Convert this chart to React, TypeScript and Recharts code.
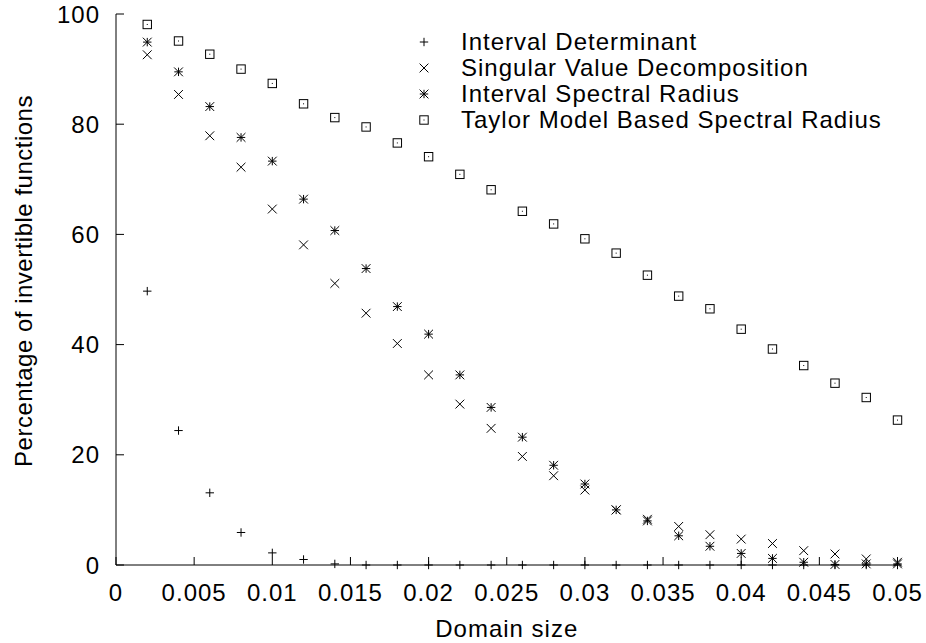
import { Legend, Scatter, ScatterChart, XAxis, YAxis } from "recharts";

const domainSizes = [
  0.002, 0.004, 0.006, 0.008, 0.01, 0.012, 0.014, 0.016, 0.018, 0.02, 0.022, 0.024, 0.026,
  0.028, 0.03, 0.032, 0.034, 0.036, 0.038, 0.04, 0.042, 0.044, 0.046, 0.048, 0.05,
];
const intervalDeterminant = [
  49.7, 24.4, 13.1, 5.9, 2.2, 1.0, 0.2, 0, 0, 0, 0, 0, 0, 0, 0, 0, 0, 0, 0, 0, 0, 0, 0, 0, 0,
];
const singularValueDecomposition = [
  92.6, 85.4, 77.9, 72.2, 64.6, 58.1, 51.1, 45.7, 40.2, 34.5, 29.2, 24.8, 19.7, 16.2, 13.6,
  10.0, 8.3, 7.0, 5.5, 4.7, 3.9, 2.6, 2.0, 1.1, 0.5,
];
const intervalSpectralRadius = [
  94.9, 89.5, 83.2, 77.6, 73.3, 66.4, 60.7, 53.8, 46.9, 41.9, 34.5, 28.6, 23.2, 18.1, 14.7,
  10.0, 8.0, 5.3, 3.4, 2.1, 1.2, 0.5, 0.1, 0.2, 0.2,
];
const taylorModelSpectralRadius = [
  98.1, 95.1, 92.7, 90.0, 87.4, 83.7, 81.2, 79.5, 76.6, 74.1, 70.9, 68.1, 64.2, 61.9, 59.2,
  56.6, 52.6, 48.8, 46.5, 42.8, 39.2, 36.2, 33.0, 30.4, 26.3,
];

const xTicks = [0, 0.005, 0.01, 0.015, 0.02, 0.025, 0.03, 0.035, 0.04, 0.045, 0.05];
const xTickLabels = ["0", "0.005", "0.01", "0.015", "0.02", "0.025", "0.03", "0.035", "0.04", "0.045", "0.05"];
const yTicks = [0, 20, 40, 60, 80, 100];

type MarkerKind = "plus" | "cross" | "star" | "box";

const series: { name: string; values: number[]; marker: MarkerKind }[] = [
  { name: "Interval Determinant", values: intervalDeterminant, marker: "plus" },
  { name: "Singular Value Decomposition", values: singularValueDecomposition, marker: "cross" },
  { name: "Interval Spectral Radius", values: intervalSpectralRadius, marker: "star" },
  { name: "Taylor Model Based Spectral Radius", values: taylorModelSpectralRadius, marker: "box" },
];

const FONT = '"Liberation Sans", Arial, Helvetica, sans-serif';
const TICK = 8;

function Marker({ kind, cx, cy }: { kind: MarkerKind; cx: number; cy: number }) {
  const s = 4.2;
  const d = 4.4;
  const plus = `M${cx - s},${cy}H${cx + s}M${cx},${cy - s}V${cy + s}`;
  const cross = `M${cx - d},${cy - d}L${cx + d},${cy + d}M${cx - d},${cy + d}L${cx + d},${cy - d}`;
  if (kind === "box") {
    return (
      <g>
        <rect x={cx - s} y={cy - s} width={2 * s} height={2 * s} fill="none" stroke="#000" strokeWidth={1} />
        <rect x={cx - 0.5} y={cy - 0.5} width={1} height={1} fill="#000" />
      </g>
    );
  }
  const path = kind === "plus" ? plus : kind === "cross" ? cross : plus + cross;
  return <path d={path} stroke="#000" strokeWidth={1} fill="none" />;
}

const BottomTick = ({ x, y, payload }: any) => (
  <g>
    <line x1={x} x2={x} y1={y} y2={y - TICK} stroke="#000" />
    <text x={x} y={y + 36} textAnchor="middle" fontFamily={FONT} fontSize={24} letterSpacing={1} fill="#000">
      {xTickLabels[xTicks.indexOf(payload.value)]}
    </text>
  </g>
);

const TopTick = ({ x, y }: any) => <line x1={x} x2={x} y1={y} y2={y + TICK} stroke="#000" />;

const LeftTick = ({ x, y, payload }: any) => (
  <g>
    <line x1={x} x2={x + TICK} y1={y} y2={y} stroke="#000" />
    <text x={x - 16} y={y + 8.6} textAnchor="end" fontFamily={FONT} fontSize={24} letterSpacing={1} fill="#000">
      {payload.value}
    </text>
  </g>
);

const RightTick = ({ x, y }: any) => <line x1={x} x2={x - TICK} y1={y} y2={y} stroke="#000" />;

function LegendBox() {
  return (
    <div style={{ fontFamily: FONT, fontSize: 24, letterSpacing: 1, color: "#000" }}>
      {series.map((s) => (
        <div key={s.name} style={{ display: "flex", alignItems: "center", height: 26, lineHeight: "26px", whiteSpace: "nowrap" }}>
          <svg width={51} height={26} style={{ flex: "none" }}>
            <Marker kind={s.marker} cx={14} cy={13} />
          </svg>
          <span>{s.name}</span>
        </div>
      ))}
    </div>
  );
}

export default function App() {
  return (
    <div style={{ position: "absolute", left: 0, top: 0, width: 926, height: 643, background: "#fff" }}>
      <ScatterChart width={926} height={643} margin={{ top: 14, right: 28.5, bottom: 0, left: 0 }}>
        <XAxis
          xAxisId="bottom"
          type="number"
          dataKey="x"
          domain={[0, 0.05]}
          ticks={xTicks}
          height={78}
          tickSize={0}
          tickMargin={0}
          tickLine={false}
          axisLine={{ stroke: "#000", strokeWidth: 1 }}
          tick={<BottomTick />}
          interval={0}
          label={({ viewBox }: any) => (
            <text
              x={viewBox.x + viewBox.width / 2}
              y={viewBox.y + 72}
              textAnchor="middle"
              fontFamily={FONT}
              fontSize={24}
              letterSpacing={1}
              fill="#000"
            >
              Domain size
            </text>
          )}
        />
        <XAxis
          xAxisId="top"
          orientation="top"
          type="number"
          dataKey="x"
          domain={[0, 0.05]}
          ticks={xTicks}
          height={0}
          tickSize={0}
          tickMargin={0}
          tickLine={false}
          axisLine={{ stroke: "#000", strokeWidth: 1 }}
          tick={<TopTick />}
          interval={0}
        />
        <YAxis
          yAxisId="left"
          type="number"
          dataKey="y"
          domain={[0, 100]}
          ticks={yTicks}
          width={116}
          tickSize={0}
          tickMargin={0}
          tickLine={false}
          axisLine={{ stroke: "#000", strokeWidth: 1 }}
          tick={<LeftTick />}
          interval={0}
          label={({ viewBox }: any) => {
            const lx = viewBox.x + 32;
            const ly = viewBox.y + viewBox.height / 2 - 8.5;
            return (
              <text
                x={lx}
                y={ly}
                transform={`rotate(-90, ${lx}, ${ly})`}
                textAnchor="middle"
                fontFamily={FONT}
                fontSize={24}
                letterSpacing={0.5}
                fill="#000"
              >
                Percentage of invertible functions
              </text>
            );
          }}
        />
        <YAxis
          yAxisId="right"
          orientation="right"
          type="number"
          dataKey="y"
          domain={[0, 100]}
          ticks={yTicks}
          width={0}
          tickSize={0}
          tickMargin={0}
          tickLine={false}
          axisLine={{ stroke: "#000", strokeWidth: 1 }}
          tick={<RightTick />}
          interval={0}
        />
        <Legend
          layout="vertical"
          align="center"
          verticalAlign="middle"
          content={() => <LegendBox />}
          wrapperStyle={{ left: 410, top: 28.7, width: 500, height: 110 }}
        />
        {series.map((s) => (
          <Scatter
            key={s.name}
            name={s.name}
            xAxisId="bottom"
            yAxisId="left"
            data={domainSizes.map((x, i) => ({ x, y: s.values[i] }))}
            isAnimationActive={false}
            shape={(p: any) => <Marker kind={s.marker} cx={p.cx} cy={p.cy} />}
          />
        ))}
      </ScatterChart>
    </div>
  );
}
